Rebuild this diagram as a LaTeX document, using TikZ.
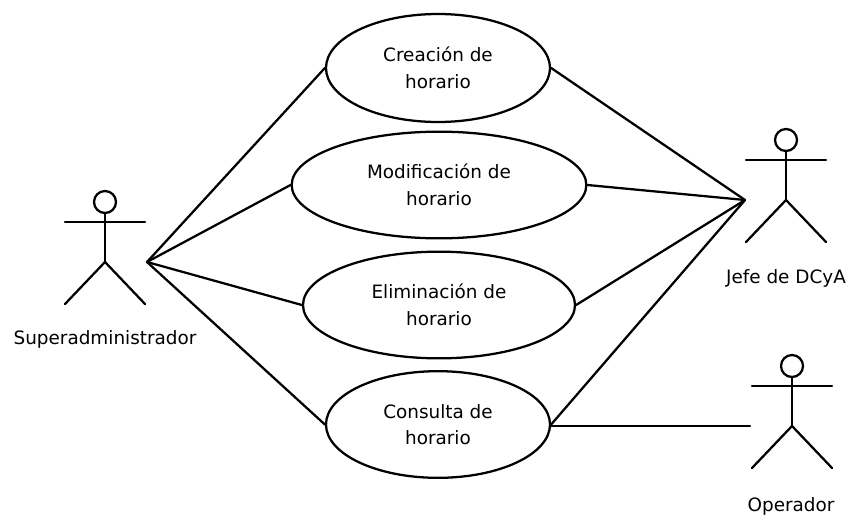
\documentclass[tikz,border=0pt]{standalone}
\usepackage{fontspec}
\setmainfont{DejaVu Sans}
\usetikzlibrary{shapes.geometric}
\tikzset{>=latex}
\tikzset{usecase/.style={draw,ellipse,line width=1.7pt,inner sep=0pt,align=center,font=\fontsize{13.8}{20}\selectfont},
  actorname/.style={font=\fontsize{13.8}{16}\selectfont,inner sep=0pt},
  line/.style={line width=1.7pt,line cap=round}}
\begin{document}
\begin{tikzpicture}[x=0.75pt,y=-0.75pt]
      \def\wact{40}  % half width of actor
      \def\rhead{11}  % radius of head
      \useasboundingbox (0,0) rectangle (852,514);
      \node[usecase,minimum width=168pt,minimum height=81pt] (crea) at (438,68) {Creación de\\horario};
      \node[usecase,minimum width=221pt,minimum height=80pt] (modi) at (439,185) {Modificación de\\horario};
      \node[usecase,minimum width=204pt,minimum height=80pt] (elim) at (439,305) {Eliminación de\\horario};
      \node[usecase,minimum width=168pt,minimum height=80pt] (cons) at (438,424.5) {Consulta de\\horario};
      %
      \foreach \X/\Y/\N in {105/202/super,786/140/jefe,792/366/oper} {%
        \draw[line] (\X,\Y) circle (\rhead);
        \draw[line] (\X,\Y+\rhead) -- (\X,\Y+60);
        \draw[line] (\X-\wact,\Y+20) -- (\X+\wact,\Y+20);
        \draw[line] (\X-\wact,\Y+102) -- (\X,\Y+60) -- (\X+\wact,\Y+102);
      }
      \node[actorname] (lsuper) at (105,339) {Superadministrador};
      \node[actorname] (ljefe) at (786,278.5) {Jefe de DCyA};
      \node[actorname] (loper) at (791,506) {Operador};
      %
      \coordinate (hubsuper) at (147,262);
      \coordinate (hubjefe) at (745,200);
      \coordinate (huboper) at (750,426);
      \foreach \U in {crea,modi,elim,cons} {%
        \draw[line] (hubsuper) -- (\U.west);
        \draw[line] (\U.east) -- (hubjefe);
      }
      \draw[line] (cons.east |- huboper) -- (huboper);
    \end{tikzpicture}
\end{document}
